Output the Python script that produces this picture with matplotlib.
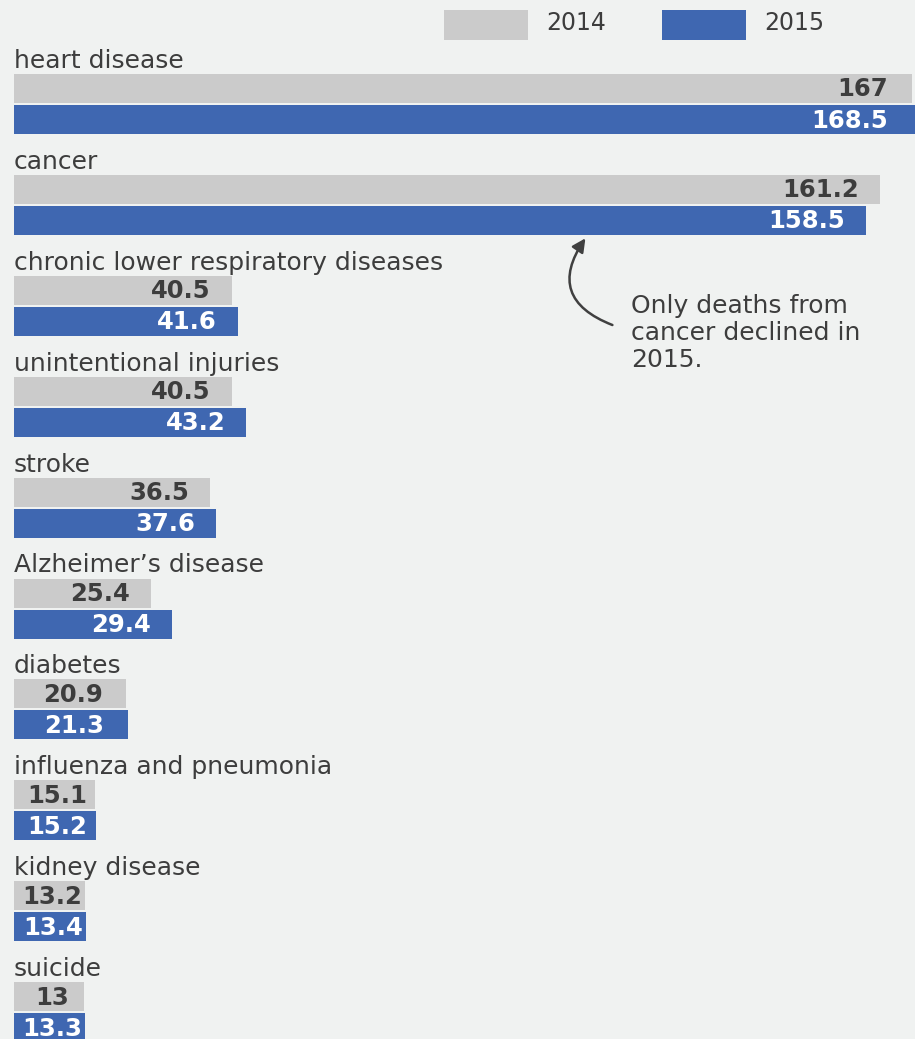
import numpy as np
import matplotlib.pyplot as plt

causes = ["heart disease", "cancer", "chronic lower respiratory diseases",
          "unintentional injuries", "stroke", "Alzheimer\u2019s disease",
          "diabetes", "influenza and pneumonia", "kidney disease", "suicide"]
rate_2014 = [167, 161.2, 40.5, 40.5, 36.5, 25.4, 20.9, 15.1, 13.2, 13]
rate_2015 = [168.5, 158.5, 41.6, 43.2, 37.6, 29.4, 21.3, 15.2, 13.4, 13.3]
years = ["2014", "2015"]

BG = "#f0f2f1"
GREY = "#cbcbcb"
BLUE = "#3f67b1"
TXT = "#3d3d3d"

W, H = 915, 1039
fig = plt.figure(figsize=(W / 100, H / 100), dpi=100, facecolor=BG)
ax = fig.add_axes([0, 0, 1, 1])
ax.set_facecolor(BG)

# x in data units, y in pixels from the top
px = 5.375  # pixels per unit
x0 = 14
ax.set_xlim(-x0 / px, (W - x0) / px)
ax.set_ylim(H, 0)
ax.axis("off")

bar_h = 29
gap = 31
tops = 74 + np.arange(len(causes)) * 100.9

ax.barh(tops, rate_2014, height=bar_h, align="edge", color=GREY)
ax.barh(tops + gap, rate_2015, height=bar_h, align="edge", color=BLUE)

off = 21 / px
for i, name in enumerate(causes):
    ax.text(0, tops[i] - 6, name, ha="left", va="baseline", fontsize=18,
            color=TXT)
    for v, y, col in [(rate_2014[i], tops[i], TXT),
                      (rate_2015[i], tops[i] + gap, "white")]:
        lab = f"{v:g}"
        yc = y + bar_h / 2 + 1
        if v < 22:
            ax.text(v / 2 + 0.5, yc, lab, ha="center", va="center",
                    fontsize=17.5, fontweight="bold", color=col)
        else:
            ax.text(min(v, 166.5) - off, yc, lab, ha="right", va="center",
                    fontsize=17.5, fontweight="bold", color=col)

# legend
lx = [(444 - x0) / px, (662 - x0) / px]
for xs, col, yr in zip(lx, [GREY, BLUE], years):
    ax.add_patch(plt.Rectangle((xs, 10), 84 / px, 30, color=col, lw=0))
    ax.text(xs + 102 / px, 23, yr, ha="left", va="center", fontsize=17,
            color=TXT)

# annotation
ax.text((631 - x0) / px, 294, "Only deaths from\ncancer declined in\n2015.",
        ha="left", va="top", fontsize=18, color=TXT, linespacing=1.15)
ax.annotate("", xy=((587 - x0) / px, 236), xytext=((615 - x0) / px, 326),
            arrowprops=dict(arrowstyle="-|>,head_length=0.8,head_width=0.4",
                            color="#404040", lw=1.8,
                            connectionstyle="arc3,rad=-0.65"))

plt.savefig("out.png", dpi=100, facecolor=BG)
plt.close()
